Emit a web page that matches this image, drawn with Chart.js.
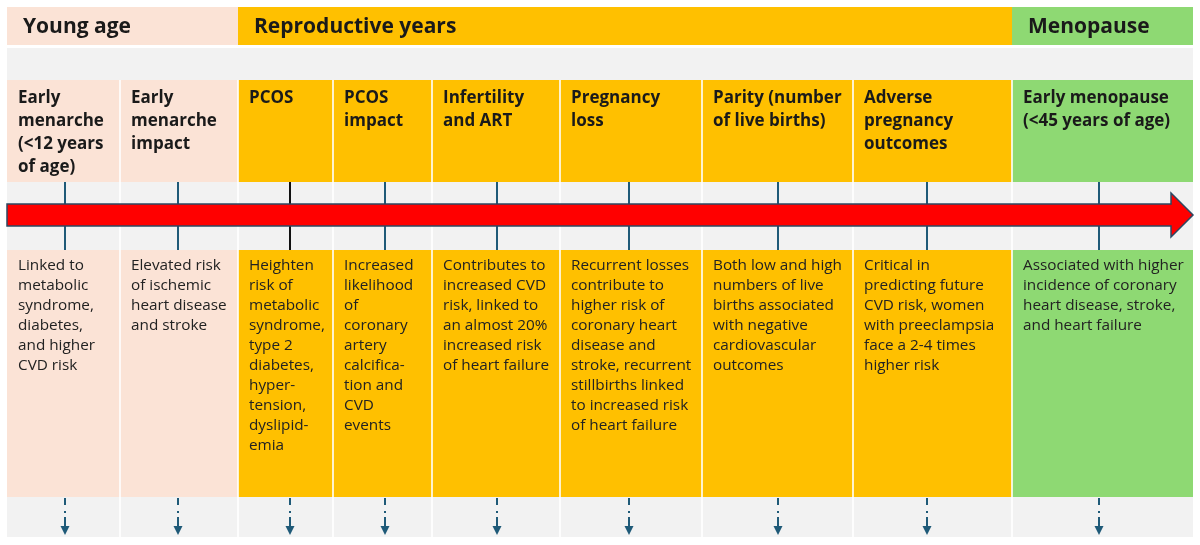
<!DOCTYPE html>
<html>
<head>
<meta charset="utf-8">
<script src="https://cdn.jsdelivr.net/npm/chart.js@4.4.1/dist/chart.umd.min.js"></script>
<style>
  html, body { margin: 0; padding: 0; background: #fff; }
  #wrap { width: 1200px; height: 545px; }
</style>
</head>
<body>
<div id="wrap"><canvas id="timeline"></canvas></div>
<script>
// life stages and the events that sit under each of them
const stages = ['Young age', 'Reproductive years', 'Menopause'];
const eventStage = [0, 0, 1, 1, 1, 1, 1, 1, 2];

const eventTitles = [
	['Early', 'menarche', '(<12 years', 'of age)'],
	['Early', 'menarche', 'impact'],
	['PCOS'],
	['PCOS', 'impact'],
	['Infertility', 'and ART'],
	['Pregnancy', 'loss'],
	['Parity (number', 'of live births)'],
	['Adverse', 'pregnancy', 'outcomes'],
	['Early menopause', '(<45 years of age)'],
];

const eventDescriptions = [
	['Linked to', 'metabolic', 'syndrome,', 'diabetes,', 'and higher', 'CVD risk'],
	['Elevated risk', 'of ischemic', 'heart disease', 'and stroke'],
	['Heighten', 'risk of', 'metabolic', 'syndrome,', 'type 2', 'diabetes,', 'hyper-', 'tension,', 'dyslipid-', 'emia'],
	['Increased', 'likelihood', 'of', 'coronary', 'artery', 'calcifica-', 'tion and', 'CVD', 'events'],
	['Contributes to', 'increased CVD', 'risk, linked to', 'an almost 20%', 'increased risk', 'of heart failure'],
	['Recurrent losses', 'contribute to', 'higher risk of', 'coronary heart', 'disease and', 'stroke, recurrent', 'stillbirths linked', 'to increased risk', 'of heart failure'],
	['Both low and high', 'numbers of live', 'births associated', 'with negative', 'cardiovascular', 'outcomes'],
	['Critical in', 'predicting future', 'CVD risk, women', 'with preeclampsia', 'face a 2-4 times', 'higher risk'],
	['Associated with higher', 'incidence of coronary', 'heart disease, stroke,', 'and heart failure'],
];

// the PCOS marker is drawn in black in the original
const markedEvent = 2;

// layout (in scale units, which are set up to match pixels)
const LAYOUT = {
	left: 7,
	colWidths: [113, 118, 95, 99, 128, 142, 151, 159, 181],
	tickShift: [1.5, -1, 4.5, 2.5, 1, -2, 0.5, -5.5, -3.5],
	header: [7, 45],
	band: [48, 80],
	titles: [80, 182],
	axis: [182, 250],
	desc: [250, 497],
	foot: [497, 537],
	arrowBody: [204, 226],
	arrowHead: [193, 237],
	headLength: 22,
	gap: 0.8,
	padX: 11,
};

const STYLE = {
	stageFill: ['#fbe3d6', '#ffc000', '#8ed973'],
	band: '#f2f2f2',
	tick: '#1f5a78',
	tickMarked: '#111111',
	arrowFill: '#ff0000',
	arrowLine: '#2c4862',
	text: '#1a1a1a',
	descText: '#222222',
	font: '"Open Sans", sans-serif',
};

const edges = [LAYOUT.left];
LAYOUT.colWidths.forEach(w => edges.push(edges[edges.length - 1] + w));
const right = edges[edges.length - 1];
const nCols = LAYOUT.colWidths.length;
const centers = edges.slice(0, -1).map((e, i) => (e + edges[i + 1]) / 2 + LAYOUT.tickShift[i]);

const mid = r => (r[0] + r[1]) / 2;
const thick = r => r[1] - r[0];

const cellSpans = edges.slice(0, -1).map((e, i) => [
	e + (i ? LAYOUT.gap : 0),
	edges[i + 1] - (i < nCols - 1 ? LAYOUT.gap : 0),
]);

const stageSpans = stages.map((s, k) => {
	const cols = [];
	eventStage.forEach((st, j) => { if (st === k) cols.push(j); });
	return [edges[cols[0]], edges[cols[cols.length - 1] + 1]];
});

const eventFill = eventStage.map(st => STYLE.stageFill[st]);
const tickColors = eventStage.map((st, i) => i === markedEvent ? STYLE.tickMarked : STYLE.tick);

// chart.js paints lower "order" on top
const rowSet = (label, spans, row, colors, order) => ({
	label: label,
	data: spans.map(s => ({ x: s, y: mid(row) })),
	backgroundColor: colors,
	barThickness: thick(row),
	grouped: false,
	borderWidth: 0,
	inflateAmount: 0,
	order: order,
});

const upperTick = [LAYOUT.axis[0], LAYOUT.arrowBody[0]];
const lowerTick = [LAYOUT.arrowBody[1], LAYOUT.axis[1]];
const tickSpans = centers.map(c => [c - 1, c + 1]);

// red arrow through the event markers
const arrowPlugin = {
	id: 'arrow',
	afterDatasetsDraw(chart) {
		const ctx = chart.ctx;
		const px = v => chart.scales.x.getPixelForValue(v);
		const py = v => chart.scales.y.getPixelForValue(v);
		const headStart = right - LAYOUT.headLength;
		ctx.save();
		ctx.beginPath();
		ctx.moveTo(px(LAYOUT.left), py(LAYOUT.arrowBody[0]));
		ctx.lineTo(px(headStart), py(LAYOUT.arrowBody[0]));
		ctx.lineTo(px(headStart), py(LAYOUT.arrowHead[0]));
		ctx.lineTo(px(right), py(mid(LAYOUT.arrowBody)));
		ctx.lineTo(px(headStart), py(LAYOUT.arrowHead[1]));
		ctx.lineTo(px(headStart), py(LAYOUT.arrowBody[1]));
		ctx.lineTo(px(LAYOUT.left), py(LAYOUT.arrowBody[1]));
		ctx.closePath();
		ctx.fillStyle = STYLE.arrowFill;
		ctx.fill();
		ctx.lineWidth = 1.5;
		ctx.lineJoin = 'miter';
		ctx.strokeStyle = STYLE.arrowLine;
		ctx.stroke();

		// small dotted arrows pointing down at the bottom
		ctx.fillStyle = STYLE.tick;
		centers.forEach(c => {
			const x = px(c);
			ctx.fillRect(x - 1, py(498), 2, py(505) - py(498));
			ctx.fillRect(x - 1, py(511), 2, 2);
			ctx.fillRect(x - 1, py(517), 2, py(527) - py(517));
			ctx.beginPath();
			ctx.moveTo(x - 4.5, py(526));
			ctx.lineTo(x + 4.5, py(526));
			ctx.lineTo(x, py(535));
			ctx.closePath();
			ctx.fill();
		});
		ctx.restore();
	}
};

// all the text of the timeline
const labelPlugin = {
	id: 'labels',
	afterDraw(chart) {
		const ctx = chart.ctx;
		const px = v => chart.scales.x.getPixelForValue(v);
		const py = v => chart.scales.y.getPixelForValue(v);
		ctx.save();
		ctx.textAlign = 'left';
		ctx.textBaseline = 'alphabetic';

		ctx.fillStyle = STYLE.text;
		ctx.font = 'bold 21px ' + STYLE.font;
		stages.forEach((s, k) => {
			ctx.fillText(s, px(stageSpans[k][0] + 16), py(LAYOUT.header[0] + 26));
		});

		ctx.font = 'bold 17px ' + STYLE.font;
		eventTitles.forEach((lines, i) => {
			lines.forEach((line, j) => {
				ctx.fillText(line, px(edges[i] + LAYOUT.padX), py(LAYOUT.titles[0] + 23 + j * 23));
			});
		});

		ctx.fillStyle = STYLE.descText;
		ctx.font = '15.3px ' + STYLE.font;
		eventDescriptions.forEach((lines, i) => {
			lines.forEach((line, j) => {
				ctx.fillText(line, px(edges[i] + LAYOUT.padX), py(LAYOUT.desc[0] + 20 + j * 20));
			});
		});
		ctx.restore();
	}
};

new Chart(document.getElementById('timeline'), {
	type: 'bar',
	data: {
		datasets: [
			rowSet('stages', stageSpans, LAYOUT.header, STYLE.stageFill, 1),
			rowSet('band', [[LAYOUT.left, right]], LAYOUT.band, STYLE.band, 1),
			rowSet('titles', cellSpans, LAYOUT.titles, eventFill, 1),
			rowSet('axis', cellSpans, LAYOUT.axis, STYLE.band, 1),
			rowSet('descriptions', cellSpans, LAYOUT.desc, eventFill, 1),
			rowSet('foot', cellSpans, LAYOUT.foot, STYLE.band, 1),
			rowSet('upper ticks', tickSpans, upperTick, tickColors, 0),
			rowSet('lower ticks', tickSpans, lowerTick, tickColors, 0),
		]
	},
	options: {
		indexAxis: 'y',
		responsive: true,
		maintainAspectRatio: false,
		animation: false,
		layout: { padding: 0 },
		scales: {
			x: { type: 'linear', min: 0, max: 1200, offset: false, display: false },
			y: { type: 'linear', min: 0, max: 545, reverse: true, offset: false, display: false },
		},
		plugins: {
			legend: { display: false },
			tooltip: { enabled: false },
		}
	},
	plugins: [arrowPlugin, labelPlugin]
});
</script>
</body>
</html>
